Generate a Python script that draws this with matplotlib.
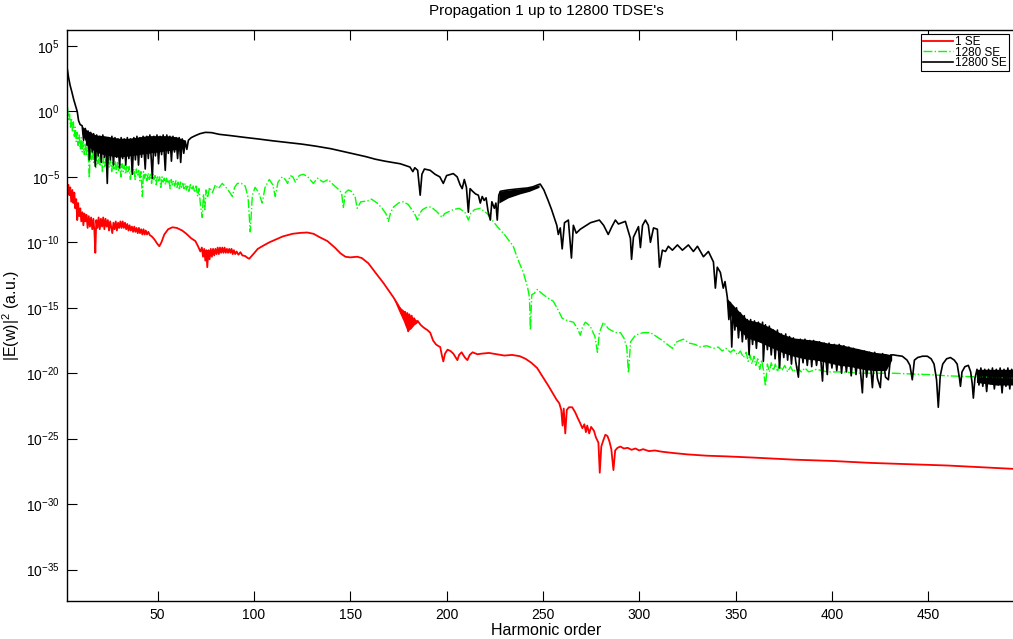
import numpy as np
import matplotlib
matplotlib.use("Agg")
import matplotlib.pyplot as plt

plt.rcParams['font.family'] = ['Liberation Sans', 'DejaVu Sans']
plt.rcParams['mathtext.fontset'] = 'custom'
plt.rcParams['mathtext.rm'] = 'Liberation Sans'
plt.rcParams['mathtext.it'] = 'Liberation Sans:italic'
plt.rcParams['mathtext.default'] = 'regular'

# values are (harmonic order, log10 |E(w)|^2)
red_pts = [
    (3.2, -6.2), (3.7, -5.6), (4.2, -6.4), (4.7, -5.8), (5.2, -6.9), (5.8, -6.0), (6.3, -7.0), (6.8, -6.2),
    (7.3, -7.4), (7.8, -6.7), (8.3, -8.3), (8.8, -7.0), (9.3, -8.0), (9.9, -7.4), (10.4, -8.4), (11.0, -7.7),
    (11.5, -8.7), (12.0, -7.8), (12.5, -8.4), (13.1, -7.9), (13.7, -8.9), (14.3, -8.0), (14.9, -8.8), (15.5, -8.1),
    (16.1, -9.0), (16.7, -8.2), (17.2, -9.1), (17.7, -10.8), (18.2, -8.3), (18.8, -8.9), (19.4, -8.1), (20.0, -9.0),
    (20.6, -8.2), (21.2, -8.8), (21.8, -8.1), (22.4, -9.0), (23.0, -8.2), (23.6, -8.8), (24.2, -8.3), (24.8, -9.1),
    (25.4, -8.4), (26.0, -8.9), (26.5, -9.3), (27.1, -8.5), (27.7, -9.0), (28.3, -8.4), (28.9, -9.1), (29.5, -8.5),
    (30.1, -8.9), (30.7, -8.4), (31.3, -8.9), (31.9, -8.4), (32.5, -8.9), (33.1, -8.5), (33.7, -9.0), (34.3, -8.6),
    (34.9, -9.1), (35.5, -8.7), (36.1, -9.1), (36.7, -8.8), (37.3, -9.2), (37.9, -8.8), (38.5, -9.2), (39.1, -8.9),
    (39.7, -9.3), (40.3, -8.9), (40.9, -9.3), (41.5, -9.0), (42.1, -9.4), (42.7, -9.0), (43.3, -9.4), (43.9, -9.1),
    (44.5, -9.4), (45.2, -9.2), (46.0, -9.45), (47.0, -9.55), (48.5, -9.8), (49.8, -10.1), (50.9, -10.3), (52.0, -10.0),
    (53.5, -9.4), (55.5, -9.0), (57.7, -8.85), (60.0, -8.9), (62.8, -9.1), (65.0, -9.35), (67.5, -9.7), (69.6, -9.9),
    (71.0, -10.3), (72.2, -10.7), (73.0, -10.4), (73.6, -11.1), (74.2, -10.5), (74.8, -11.4), (75.3, -10.6), (75.8, -11.9),
    (76.4, -10.6), (77.0, -11.3), (77.6, -10.5), (78.2, -11.1), (78.8, -10.5), (79.4, -11.0), (80.0, -10.5), (80.6, -10.9),
    (81.2, -10.4), (81.8, -10.9), (82.4, -10.4), (83.0, -10.8), (83.6, -10.4), (84.2, -10.8), (84.8, -10.4), (85.4, -10.8),
    (86.0, -10.5), (86.6, -10.8), (87.2, -10.5), (87.8, -10.8), (88.4, -10.5), (89.0, -10.9), (89.6, -10.6), (90.3, -10.9),
    (91.0, -10.7), (92.0, -10.95), (93.0, -10.75), (94.0, -11.0), (95.5, -11.05), (96.8, -11.2), (97.6, -11.25), (98.5, -11.1),
    (100.0, -10.85), (102.0, -10.5), (104.3, -10.3), (108.0, -10.0), (111.1, -9.8), (115.0, -9.55), (120.0, -9.35), (124.0, -9.28),
    (127.7, -9.25), (131.0, -9.35), (134.0, -9.6), (138.1, -9.9), (142.0, -10.4), (145.0, -10.85), (147.5, -11.1), (150.0, -11.15),
    (153.6, -11.1), (156.0, -11.2), (159.4, -11.6), (163.0, -12.3), (167.2, -13.1), (170.0, -13.7), (172.4, -14.2), (174.5, -14.7),
    (176.0, -15.1), (176.6, -15.4), (177.2, -15.2), (177.8, -15.8), (178.4, -15.3), (179.0, -16.3), (179.6, -15.4), (180.1, -16.8),
    (180.7, -15.5), (181.3, -16.5), (181.9, -15.6), (182.5, -16.3), (183.2, -15.8), (184.0, -16.2), (185.0, -16.0), (186.5, -16.3),
    (188.0, -16.5), (190.0, -16.7), (191.5, -16.9), (193.0, -17.5), (194.5, -17.8), (195.5, -17.9), (196.7, -18.0), (197.5, -18.6),
    (198.3, -19.1), (199.2, -18.5), (200.5, -18.2), (202.0, -18.3), (203.5, -18.5), (204.8, -18.8), (205.6, -19.0), (206.5, -18.6),
    (207.8, -18.4), (209.5, -18.8), (210.8, -19.0), (212.0, -18.6), (213.5, -18.4), (216.0, -18.55), (218.5, -18.5), (222.0, -18.45),
    (226.0, -18.55), (230.0, -18.65), (234.0, -18.6), (238.0, -18.7), (241.0, -18.9), (244.0, -19.2), (247.0, -19.6), (250.0, -20.3),
    (253.0, -21.0), (255.4, -21.6), (257.0, -22.0), (258.5, -22.3), (259.5, -22.8), (260.2, -24.0), (260.8, -22.7), (261.6, -24.6),
    (262.4, -22.8), (263.5, -22.6), (265.2, -22.6), (266.8, -23.0), (268.0, -23.4), (269.3, -23.8), (270.5, -24.2), (271.5, -23.9),
    (272.3, -24.5), (273.0, -24.0), (274.0, -24.6), (275.0, -24.1), (276.5, -24.4), (277.5, -24.9), (278.8, -25.3), (279.5, -27.6),
    (280.3, -25.6), (281.4, -25.1), (282.4, -24.7), (283.5, -24.8), (284.5, -25.2), (285.5, -25.8), (286.6, -27.4), (287.5, -25.9),
    (288.7, -25.7), (290.2, -25.6), (292.0, -25.75), (294.0, -25.7), (296.0, -25.85), (298.0, -25.75), (300.0, -25.9), (302.0, -25.8),
    (305.0, -25.95), (308.0, -25.9), (312.0, -26.0), (318.0, -26.1), (325.0, -26.2), (335.0, -26.3), (345.0, -26.35), (360.0, -26.45),
    (380.0, -26.6), (400.0, -26.7), (420.0, -26.85), (440.0, -26.95), (460.0, -27.05), (480.0, -27.2), (500.0, -27.35),
]

green_pts = [
    (3.3, 0.3), (3.8, -0.6), (4.3, -0.2), (4.8, -1.2), (5.3, -0.5), (5.8, -1.5), (6.3, -0.8), (6.8, -1.9),
    (7.3, -1.2), (7.8, -2.3), (8.3, -1.6), (8.8, -2.6), (9.3, -1.8), (9.9, -2.9), (10.4, -2.0), (10.9, -3.1),
    (11.4, -2.3), (12.0, -3.3), (12.5, -2.5), (13.0, -3.4), (13.6, -2.7), (14.1, -3.6), (14.6, -5.1), (15.1, -2.9),
    (15.7, -3.7), (16.2, -3.0), (16.8, -3.9), (17.3, -3.1), (17.9, -4.3), (18.4, -3.2), (19.0, -4.0), (19.6, -3.3),
    (20.2, -4.2), (20.8, -3.4), (21.4, -4.6), (22.0, -3.5), (22.6, -4.2), (23.2, -3.6), (23.8, -4.5), (24.4, -3.6),
    (25.0, -4.3), (25.6, -3.7), (26.2, -4.6), (26.8, -3.8), (27.4, -4.4), (28.0, -3.8), (28.6, -4.7), (29.2, -3.9),
    (29.8, -4.5), (30.4, -4.0), (31.0, -5.0), (31.6, -4.0), (32.2, -4.6), (32.8, -4.1), (33.4, -4.8), (34.0, -4.2),
    (34.6, -4.7), (35.3, -4.2), (35.9, -5.2), (36.5, -4.3), (37.1, -4.8), (37.7, -4.4), (38.4, -5.2), (39.0, -4.4),
    (39.6, -4.9), (40.2, -4.5), (40.8, -5.3), (41.4, -4.6), (42.1, -6.5), (42.7, -4.6), (43.3, -5.1), (43.9, -4.7),
    (44.5, -5.3), (45.1, -4.7), (45.7, -5.2), (46.3, -4.8), (46.9, -5.5), (47.5, -4.8), (48.1, -5.2), (48.7, -4.9),
    (49.3, -5.6), (49.9, -4.9), (50.5, -5.3), (51.1, -5.0), (51.7, -5.8), (52.3, -5.0), (52.9, -5.4), (53.5, -5.1),
    (54.1, -5.6), (54.7, -5.1), (55.3, -5.5), (55.9, -5.2), (56.5, -5.9), (57.1, -5.2), (57.7, -5.6), (58.3, -5.3),
    (58.9, -5.7), (59.5, -5.3), (60.1, -5.8), (60.7, -5.4), (61.3, -6.0), (61.9, -5.4), (62.5, -5.8), (63.1, -5.5),
    (63.7, -5.9), (64.3, -5.5), (65.0, -6.0), (65.6, -5.6), (66.3, -6.1), (67.0, -5.6), (67.8, -6.0), (68.5, -5.7),
    (69.3, -6.2), (70.0, -5.7), (70.8, -6.5), (71.5, -5.9), (72.3, -7.2), (73.2, -8.1), (73.8, -6.3), (74.5, -7.5),
    (75.2, -6.0), (76.0, -6.6), (77.0, -5.8), (78.5, -6.2), (80.0, -5.6), (81.5, -5.9), (83.6, -5.5), (85.5, -5.8),
    (87.5, -6.2), (88.8, -6.5), (90.0, -5.8), (91.4, -5.5), (93.5, -5.5), (95.5, -5.7), (97.0, -6.6), (98.1, -9.2),
    (99.2, -6.4), (100.6, -5.8), (102.5, -6.2), (104.3, -7.0), (105.8, -5.8), (108.0, -5.2), (109.8, -5.6), (111.1, -6.5),
    (112.5, -5.4), (114.7, -5.0), (116.3, -5.2), (117.5, -5.5), (118.9, -4.9), (120.2, -5.0), (121.5, -5.4), (123.5, -4.9),
    (125.6, -4.8), (128.0, -5.0), (130.8, -5.5), (133.0, -5.1), (136.0, -5.4), (138.5, -5.2), (141.2, -5.6), (143.5, -5.9),
    (145.5, -6.2), (146.4, -7.4), (147.5, -6.2), (149.0, -6.0), (150.5, -6.1), (152.5, -6.5), (153.6, -7.4), (155.5, -6.9),
    (158.8, -6.85), (161.0, -6.7), (164.0, -7.0), (166.5, -7.4), (168.5, -7.8), (169.8, -8.4), (171.0, -7.7), (172.5, -7.3),
    (175.0, -7.0), (177.5, -6.9), (180.0, -7.1), (182.5, -7.6), (184.0, -8.0), (184.8, -8.3), (186.0, -7.8), (187.5, -7.5),
    (190.0, -7.3), (192.0, -7.3), (194.5, -7.6), (196.5, -7.9), (197.7, -8.1), (199.0, -7.8), (200.5, -7.7), (203.5, -7.5),
    (206.5, -7.4), (209.5, -7.7), (210.5, -8.0), (211.3, -8.3), (212.5, -7.8), (214.5, -7.5), (217.5, -7.4), (221.0, -7.8),
    (226.3, -8.8), (230.0, -9.4), (234.6, -10.3), (237.0, -11.3), (239.8, -12.3), (242.0, -13.4), (243.0, -14.2), (243.5, -16.7),
    (244.2, -14.0), (245.5, -13.9), (247.1, -13.6), (248.6, -13.8), (252.0, -14.2), (255.4, -14.5), (258.0, -15.2), (260.0, -15.8),
    (263.0, -16.0), (265.8, -16.1), (268.0, -16.6), (269.4, -17.1), (270.5, -16.5), (272.0, -16.1), (274.5, -16.4), (277.0, -17.2),
    (278.3, -18.4), (279.3, -16.9), (281.4, -16.1), (284.0, -16.6), (287.6, -16.9), (290.2, -16.9), (292.0, -17.3), (293.5, -18.0),
    (294.4, -20.0), (295.5, -17.6), (298.0, -17.1), (302.0, -16.9), (305.8, -16.9), (309.0, -17.2), (312.0, -17.5), (314.6, -17.8),
    (317.2, -18.1), (319.5, -17.6), (322.9, -17.4), (326.0, -17.7), (329.0, -17.8), (331.7, -18.0), (335.0, -17.9), (338.5, -18.1),
    (341.0, -18.0), (343.0, -18.3), (345.0, -18.1), (347.3, -18.4), (349.0, -18.2), (351.0, -18.6), (352.5, -18.3), (354.0, -18.8),
    (355.5, -18.4), (356.5, -19.1), (357.5, -18.6), (358.5, -19.3), (359.5, -18.7), (360.5, -19.4), (361.5, -18.9), (362.5, -19.7),
    (363.5, -19.0), (364.5, -19.8), (365.5, -21.0), (366.5, -19.3), (367.5, -19.9), (368.5, -19.2), (369.6, -19.8), (370.6, -19.3),
    (371.7, -19.9), (372.8, -19.3), (374.0, -19.8), (375.5, -19.4), (377.0, -19.9), (378.5, -19.5), (380.0, -19.9), (382.0, -19.5),
    (384.0, -19.9), (386.0, -19.6), (388.0, -19.9), (392.0, -19.7), (397.6, -19.9), (405.0, -19.9), (414.7, -20.0), (425.0, -20.0),
    (431.9, -20.0), (440.0, -20.05), (449.5, -20.1), (460.0, -20.2), (470.0, -20.25), (480.0, -20.3), (490.0, -20.35), (500.0, -20.4),
]

black_pts = [
    (3.2, 3.2), (3.8, 2.6), (4.6, 2.0), (5.5, 1.5), (6.5, 0.9), (7.5, 0.4), (8.3, 0.0), (9.0, -0.7),
    (9.8, -1.0), (10.9, -1.1), (11.6, -2.2), (12.5, -1.3), (13.4, -2.6), (14.0, -1.5), (14.6, -3.7), (15.3, -1.6),
    (16.1, -3.1), (16.8, -1.7), (17.7, -4.2), (18.4, -1.8), (19.2, -3.4), (20.0, -1.9), (20.8, -3.9), (21.6, -1.8),
    (22.4, -3.5), (23.1, -2.0), (23.9, -5.5), (24.6, -2.0), (25.5, -3.7), (26.3, -1.9), (27.1, -4.1), (27.9, -2.0),
    (28.7, -3.5), (29.5, -2.1), (30.3, -4.3), (31.1, -2.0), (31.9, -3.6), (32.7, -2.1), (33.5, -4.1), (34.3, -2.0),
    (35.1, -3.6), (35.9, -2.1), (36.9, -4.8), (37.7, -2.0), (38.5, -3.7), (39.3, -1.9), (40.1, -4.1), (40.9, -2.0),
    (41.7, -3.5), (42.5, -1.9), (43.6, -4.4), (44.4, -1.9), (45.2, -3.6), (46.0, -1.8), (47.3, -5.1), (48.1, -1.9),
    (48.9, -3.4), (49.7, -1.8), (50.5, -4.0), (51.3, -1.9), (52.1, -3.3), (52.9, -1.8), (54.0, -4.5), (54.8, -1.8),
    (55.6, -3.2), (56.4, -1.9), (57.2, -3.8), (58.0, -1.9), (58.8, -3.1), (59.6, -2.0), (60.4, -3.6), (61.2, -2.0),
    (62.0, -3.9), (62.8, -2.1), (63.6, -3.2), (64.4, -2.3), (65.2, -2.9), (66.0, -2.2), (67.5, -2.0), (69.6, -1.85),
    (72.0, -1.7), (74.8, -1.6), (78.0, -1.62), (82.0, -1.75), (88.0, -1.85), (95.0, -1.98), (102.0, -2.1), (110.0, -2.25),
    (118.0, -2.38), (125.0, -2.5), (132.0, -2.65), (140.0, -2.85), (146.0, -3.05), (152.0, -3.25), (158.0, -3.45), (163.0, -3.65),
    (168.0, -3.8), (172.0, -3.9), (176.0, -4.0), (179.0, -4.15), (181.0, -4.25), (182.5, -4.6), (183.5, -4.3), (185.0, -4.5),
    (186.3, -6.4), (187.2, -4.8), (188.5, -4.4), (191.5, -4.5), (194.0, -4.8), (196.5, -5.0), (198.3, -5.5), (200.0, -4.9),
    (203.5, -4.75), (205.5, -5.0), (207.0, -5.6), (208.1, -5.9), (209.2, -5.2), (210.3, -5.8), (211.3, -7.7), (212.2, -5.9),
    (213.5, -6.1), (215.0, -6.3), (216.5, -6.4), (217.5, -7.0), (218.5, -6.5), (219.5, -6.8), (220.5, -6.6), (221.5, -7.6),
    (222.7, -8.3), (223.5, -6.9), (224.8, -7.4), (225.6, -7.0), (226.3, -8.3), (227.1, -6.4), (227.9, -6.1), (232.0, -6.0),
    (238.2, -5.9), (242.0, -5.85), (245.0, -5.75), (247.5, -5.6), (248.6, -5.55), (250.5, -6.0), (252.7, -6.8), (254.5, -7.5),
    (256.3, -8.3), (257.2, -8.7), (258.0, -9.4), (259.0, -8.9), (260.0, -10.5), (261.2, -8.5), (263.2, -8.3), (264.8, -11.2),
    (265.8, -8.7), (267.3, -9.3), (269.4, -9.0), (274.7, -8.5), (279.3, -8.3), (281.5, -8.7), (283.9, -9.4), (285.8, -8.8),
    (287.6, -8.3), (289.2, -8.6), (292.8, -8.4), (295.4, -9.7), (296.0, -11.3), (297.0, -9.6), (299.6, -8.8), (300.6, -10.4),
    (301.7, -8.7), (303.2, -8.3), (304.7, -8.7), (305.8, -10.0), (307.4, -8.9), (309.4, -9.0), (310.5, -11.9), (312.0, -10.6),
    (313.6, -10.7), (315.1, -10.3), (317.2, -10.6), (319.8, -10.2), (322.4, -10.6), (325.5, -10.2), (328.1, -10.7), (330.2, -10.3),
    (333.3, -11.1), (335.9, -10.7), (338.5, -11.5), (339.5, -13.5), (340.5, -11.9), (342.1, -12.3), (343.6, -13.5), (344.5, -13.0),
    (345.7, -14.2), (346.5, -15.9), (347.3, -14.6), (348.0, -18.0), (348.8, -14.9), (349.6, -16.7), (350.5, -15.0), (351.5, -17.3),
    (352.5, -15.4), (353.5, -17.6), (354.5, -15.6), (355.4, -17.4), (356.1, -15.9), (357.0, -18.6), (357.8, -15.9), (358.8, -17.8),
    (359.8, -16.0), (360.8, -18.1), (361.8, -16.1), (362.8, -17.6), (364.0, -16.1), (364.4, -19.1), (365.5, -16.3), (366.5, -18.2),
    (367.5, -16.4), (368.5, -18.6), (369.6, -16.7), (370.5, -18.9), (371.7, -16.7), (372.8, -19.6), (373.8, -17.0), (375.0, -18.8),
    (376.0, -17.0), (377.0, -19.0), (378.0, -17.2), (379.0, -19.3), (380.0, -17.3), (381.2, -19.1), (382.6, -20.3), (383.6, -17.4),
    (385.0, -19.2), (386.0, -17.4), (387.2, -19.4), (388.5, -17.5), (389.5, -19.5), (390.5, -17.5), (392.0, -19.4), (393.5, -17.6),
    (395.1, -20.6), (396.0, -17.7), (397.6, -20.1), (398.5, -17.7), (400.0, -19.6), (401.2, -17.8), (402.5, -19.8), (403.8, -17.8),
    (405.0, -20.0), (406.2, -17.9), (407.5, -19.9), (408.8, -18.0), (410.0, -20.2), (411.2, -18.1), (412.5, -20.1), (413.8, -18.2),
    (415.8, -21.5), (416.8, -18.3), (418.0, -20.3), (419.5, -18.4), (421.0, -21.1), (422.2, -18.4), (423.6, -20.4), (425.1, -21.1),
    (426.3, -18.5), (427.8, -20.3), (429.3, -20.5), (430.5, -18.6), (431.9, -18.6), (434.0, -18.65), (436.5, -18.7), (439.0, -19.0),
    (440.5, -19.4), (441.7, -20.5), (442.8, -19.0), (444.5, -18.8), (447.0, -18.7), (449.5, -18.7), (451.5, -18.9), (453.0, -19.3),
    (454.3, -20.5), (455.2, -22.6), (456.2, -20.2), (457.5, -19.3), (459.5, -18.9), (461.5, -18.8), (463.5, -19.0), (465.0, -19.3),
    (466.2, -20.4), (466.7, -21.0), (467.5, -19.9), (469.0, -19.5), (470.8, -19.4), (472.0, -19.9), (472.8, -20.8), (473.4, -21.9),
    (474.2, -20.4), (475.3, -19.7), (476.3, -20.9), (477.3, -19.6), (478.3, -21.0), (479.3, -19.7), (480.3, -21.4), (481.3, -19.7),
    (482.3, -20.8), (483.3, -19.6), (484.3, -21.2), (485.3, -19.7), (486.3, -20.9), (487.3, -19.6), (488.3, -21.5), (489.3, -19.7),
    (490.3, -21.0), (491.3, -19.6), (492.3, -21.2), (493.3, -19.7), (494.5, -20.8), (495.5, -19.7), (497.0, -20.9), (499.0, -19.7),
    (500.0, -20.5),
]

# dense oscillation bands: x, upper, lower (log10)
blk_band1_x = [10.5, 14, 18, 22, 26, 30, 35, 40, 45, 50, 55, 60, 64.5]
blk_band1_hi = [-1.1, -1.5, -1.8, -1.85, -1.95, -2.05, -2.05, -1.95, -1.85, -1.85, -1.85, -1.95, -2.2]
blk_band1_lo = [-1.6, -2.7, -3.1, -3.3, -3.4, -3.5, -3.4, -3.3, -3.2, -3.1, -3.0, -2.9, -2.6]
blk_band2_x = [227.1, 232, 238, 243, 248]
blk_band2_hi = [-6.1, -6.0, -5.9, -5.8, -5.6]
blk_band2_lo = [-7.0, -6.6, -6.3, -6.1, -5.8]
blk_band3_x = [345.7, 350, 356, 362, 368, 374, 380, 386, 392, 398, 404, 410, 416, 422, 428, 431]
blk_band3_hi = [-14.3, -15.0, -15.9, -16.1, -16.5, -17.0, -17.3, -17.4, -17.5, -17.7, -17.8, -18.0, -18.2, -18.4, -18.5, -18.6]
blk_band3_lo = [-15.0, -16.4, -17.3, -17.6, -18.0, -18.4, -18.7, -18.9, -19.0, -19.2, -19.4, -19.5, -19.7, -19.8, -19.8, -19.0]
blk_band4_x = [475, 480, 485, 490, 495, 500]
blk_band4_hi = [-19.7, -19.7, -19.7, -19.7, -19.7, -19.7]
blk_band4_lo = [-20.7, -20.8, -20.9, -20.9, -20.9, -20.9]
red_band_x = [172.4, 175, 177.5, 179.6, 181.5, 183.2, 185]
red_band_hi = [-14.2, -14.8, -15.2, -15.4, -15.6, -15.8, -16.0]
red_band_lo = [-14.3, -15.2, -16.0, -16.8, -16.6, -16.3, -16.1]

labels = ['1 SE', '1280 SE', '12800 SE']
ytick_exp = [5, 0, -5, -10, -15, -20, -25, -30, -35]
xtick_vals = [50, 100, 150, 200, 250, 300, 350, 400, 450]

fig = plt.figure(figsize=(10.13, 6.39), dpi=100)
ax = fig.add_axes([67 / 1013, 38 / 639, (1025 - 67) / 1013, 571 / 639])

red = np.array(red_pts)
green = np.array(green_pts)
black = np.array(black_pts)

ax.semilogy(red[:, 0], 10.0 ** red[:, 1], color=(1, 0, 0), lw=1.3, label=labels[0])
ax.semilogy(green[:, 0], 10.0 ** green[:, 1], color=(0, 1, 0), lw=1.0, ls='-.', label=labels[1])
ax.semilogy(black[:, 0], 10.0 ** black[:, 1], color='k', lw=1.2, label=labels[2])

ax.fill_between(red_band_x, 10.0 ** np.array(red_band_hi), 10.0 ** np.array(red_band_lo),
                color=(1, 0, 0), lw=0)
for bx, bh, bl in [(blk_band1_x, blk_band1_hi, blk_band1_lo),
                   (blk_band2_x, blk_band2_hi, blk_band2_lo),
                   (blk_band3_x, blk_band3_hi, blk_band3_lo),
                   (blk_band4_x, blk_band4_hi, blk_band4_lo)]:
    ax.fill_between(bx, 10.0 ** np.array(bh), 10.0 ** np.array(bl), color='k', lw=0)

ax.set_xlim(3.0, 500.2)
ax.set_ylim(10 ** -37.4, 10 ** 6.22)
ax.set_xticks(xtick_vals)
ax.set_xticklabels([str(v) for v in xtick_vals])
ax.set_yticks([10.0 ** e for e in ytick_exp])
ax.set_yticklabels([r'$10^{%d}$' % e for e in ytick_exp])
ax.minorticks_off()
ax.tick_params(direction='in', length=7, width=0.8, top=True, right=True, labelsize=10, pad=5)
for sp in ax.spines.values():
    sp.set_linewidth(1.0)

ax.set_title("Propagation 1 up to 12800 TDSE's", fontsize=11, pad=11)
ax.set_xlabel('Harmonic order', fontsize=11.5, labelpad=1)
ax.set_ylabel(r'|E(w)|$^2$ (a.u.)', fontsize=11.5, labelpad=3)

leg = ax.legend(loc='upper left', bbox_to_anchor=(921 / 1013, 1 - 34 / 639),
                bbox_transform=fig.transFigure, fontsize=8.5, frameon=True, fancybox=False,
                edgecolor='k', framealpha=1, borderpad=0.15, handlelength=2.6,
                handletextpad=0.15, labelspacing=-0.1, borderaxespad=0)
leg.get_frame().set_linewidth(0.8)

fig.savefig('out.png', dpi=100)
